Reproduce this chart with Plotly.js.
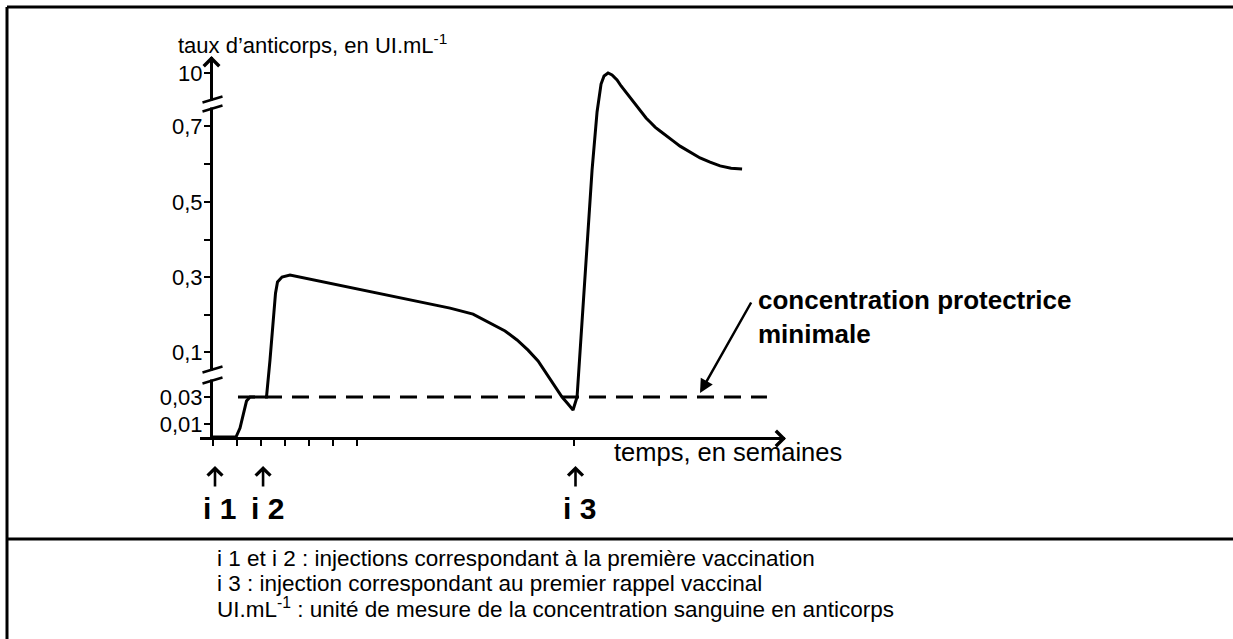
<!DOCTYPE html>
<html>
<head>
<meta charset="utf-8">
<script src="https://cdn.plot.ly/plotly-3.0.1.min.js"></script>
<style>html,body{margin:0;padding:0;background:#fff;overflow:hidden;}#chart{width:1233px;height:639px;}</style>
</head>
<body>
<div id="chart"></div>
<script>
// ---------- DATA ----------
// time in weeks after first injection (i 1)
const weeks = [0, 0.957, 1.124, 1.248, 1.394, 1.540, 2.226, 2.372, 2.497, 2.601, 2.684, 2.871, 3.204, 6.950,
  9.863, 10.820, 11.527, 12.152, 12.651, 13.109, 13.525, 13.899, 14.232, 14.524, 14.773, 14.981,
  15.148, 15.356, 15.564, 15.772, 15.980, 16.146, 16.271, 16.438, 16.604, 16.812, 16.979, 17.145,
  17.312, 17.478, 17.686, 17.853, 18.019, 18.186, 18.394, 18.602, 18.851, 19.143, 19.434, 19.684,
  19.975, 20.266, 20.682, 21.099, 21.556, 22.014];
// antibody level, UI.mL-1
const antibodies = [0, 0, 0.0069, 0.0167, 0.027, 0.03, 0.03, 0.0876, 0.185, 0.257, 0.287, 0.30, 0.305, 0.255,
  0.217, 0.201, 0.177, 0.156, 0.132, 0.105, 0.086, 0.0658, 0.0471, 0.03, 0.0248, 0.0204,
  0.03, 0.185, 0.372, 0.584, 3.16, 8.07, 9.47, 10, 9.65, 8.77, 7.72, 6.84,
  5.79, 4.91, 3.86, 2.98, 2.10, 1.40, 0.697, 0.687, 0.674, 0.661, 0.647, 0.637,
  0.626, 0.616, 0.605, 0.595, 0.589, 0.587];
const protectiveLevel = 0.03;
const protectiveSpan = [1.04, 23.05];
const injectionWeeks = [0, 2, 15];
const injectionLabels = ['i 1', 'i 2', 'i 3'];
const xTickWeeks = [0, 1, 2, 3, 4, 5, 6, 15];
const yTickValues = [0.01, 0.03, 0.1, 0.2, 0.3, 0.4, 0.5, 0.6, 0.7, 10];
const yTickLabels = ['0,01', '0,03', '0,1', '', '0,3', '', '0,5', '', '0,7', '10'];
const captionLines = [
  'i 1 et i 2 : injections correspondant à la première vaccination',
  'i 3 : injection correspondant au premier rappel vaccinal',
  'UI.mL<sup>-1</sup> : unité de mesure de la concentration sanguine en anticorps'
];

// ---------- BROKEN AXIS SCALE (value -> axis units, piecewise) ----------
const scaleVals = [0, 0.01, 0.03, 0.1, 0.3, 0.5, 0.7, 10];
const scalePos  = [0, 13, 40, 85, 160, 235, 311, 364];
function yPos(v) {
  for (let i = 1; i < scaleVals.length; i++) {
    if (v <= scaleVals[i]) {
      const t = (v - scaleVals[i-1]) / (scaleVals[i] - scaleVals[i-1]);
      return scalePos[i-1] + t * (scalePos[i] - scalePos[i-1]);
    }
  }
  return scalePos[scalePos.length-1];
}

// ---------- LAYOUT GEOMETRY ----------
const W = 1233, H = 639;
const M = {l: 213, r: 448, t: 57, b: 202, pad: 0};
const PW = W - M.l - M.r, PH = H - M.t - M.b;
const px2x = px => (px - M.l) / PW;
const py2y = py => (M.t + PH - py) / PH;
const FONT = 'Liberation Sans, Arial, sans-serif';
const NARROW = 'Liberation Sans Narrow, Liberation Sans, sans-serif';

const traces = [
  {
    x: protectiveSpan, y: protectiveSpan.map(() => yPos(protectiveLevel)),
    mode: 'lines', line: {color: '#000', width: 3, dash: '17px,10px'},
    hoverinfo: 'skip', cliponaxis: false
  },
  {
    x: weeks, y: antibodies.map(yPos),
    mode: 'lines', line: {color: '#000', width: 3, shape: 'linear'},
    hoverinfo: 'skip', cliponaxis: false
  }
];

const shapes = [];
const paperLine = (x0, y0, x1, y1, w) => shapes.push({type: 'line', xref: 'paper', yref: 'paper',
  x0: px2x(x0), y0: py2y(y0), x1: px2x(x1), y1: py2y(y1), line: {color: '#000', width: w}, layer: 'above'});
const paperRect = (x0, y0, x1, y1) => shapes.push({type: 'rect', xref: 'paper', yref: 'paper',
  x0: px2x(x0), y0: py2y(y0), x1: px2x(x1), y1: py2y(y1), line: {width: 0}, fillcolor: '#fff', layer: 'above'});

// frame (top/left) and separator
paperLine(7, 7, 1240, 7, 3);
paperLine(7, 7, 7, 645, 3);
paperLine(7, 539, 1240, 539, 3);
// x axis extension left of y axis
paperLine(200, M.t + PH + 1.5, 214, M.t + PH + 1.5, 3);
// y axis breaks: gaps + slanted marks
const axisPx = M.l - 1.5;
const breaks = [[M.t + PH - yPos(10) + 31, 9], [M.t + PH - yPos(0.03) - 22, 11]];
breaks.forEach(([yc, gap]) => {
  paperRect(axisPx - 4, yc - gap/2 + 1, axisPx + 4, yc + gap/2 - 1);
  paperLine(axisPx - 9, yc - gap/2 + 3, axisPx + 11, yc - gap/2 - 3, 2.5);
  paperLine(axisPx - 9, yc + gap/2 + 3, axisPx + 11, yc + gap/2 - 3, 2.5);
});

const annotations = [];
// axis arrows
annotations.push({xref: 'paper', yref: 'paper', x: px2x(axisPx), y: py2y(M.t - 1), ax: 0, ay: 20,
  showarrow: true, arrowhead: 4, arrowsize: 1.2, arrowwidth: 2.5, arrowcolor: '#000', text: ''});
annotations.push({xref: 'paper', yref: 'paper', x: px2x(786), y: py2y(M.t + PH + 1.5), ax: -20, ay: 0,
  showarrow: true, arrowhead: 4, arrowsize: 1.2, arrowwidth: 2.5, arrowcolor: '#000', text: ''});
// y axis title
annotations.push({xref: 'paper', yref: 'paper', x: px2x(176), y: py2y(44), xanchor: 'left', yanchor: 'middle',
  showarrow: false, text: 'taux d’anticorps, en UI.mL<sup>-1</sup>', font: {family: FONT, size: 22, color: '#000'}});
// x axis title
annotations.push({xref: 'paper', yref: 'paper', x: px2x(612), y: py2y(452), xanchor: 'left', yanchor: 'middle',
  showarrow: false, text: 'temps, en semaines', font: {family: FONT, size: 25.5, color: '#000'}});
// protective level label + arrow
annotations.push({xref: 'paper', yref: 'paper', x: px2x(756), y: py2y(317), xanchor: 'left', yanchor: 'middle',
  align: 'left', showarrow: false, text: '<b>concentration protectrice</b><br><b>minimale</b>',
  font: {family: FONT, size: 26, color: '#000'}});
annotations.push({xref: 'paper', yref: 'paper', x: px2x(700), y: py2y(393), ax: 52, ay: -92,
  showarrow: true, arrowhead: 2, arrowsize: 1.1, arrowwidth: 2.5, arrowcolor: '#000', text: ''});
// injection arrows and labels
injectionWeeks.forEach((w, i) => {
  annotations.push({xref: 'x', yref: 'paper', x: w, y: py2y(466), ax: 0, ay: 22, xshift: 2,
    showarrow: true, arrowhead: 4, arrowsize: 1.1, arrowwidth: 2.6, arrowcolor: '#000', text: ''});
  annotations.push({xref: 'x', yref: 'paper', x: w, y: py2y(509), xshift: 6, xanchor: 'center', yanchor: 'middle',
    showarrow: false, text: '<b>' + injectionLabels[i] + '</b>', font: {family: NARROW, size: 30, color: '#000'}});
});
// caption
captionLines.forEach((t, i) => {
  annotations.push({xref: 'paper', yref: 'paper', x: px2x(215), y: py2y(558 + i * 25), xanchor: 'left', yanchor: 'middle',
    showarrow: false, text: t, font: {family: FONT, size: 22.5, color: '#000'}});
});

const layout = {
  width: W, height: H, margin: M, paper_bgcolor: '#fff', plot_bgcolor: '#fff',
  showlegend: false, dragmode: false,
  xaxis: {range: [0, 23.8], showline: true, linecolor: '#000', linewidth: 3, showgrid: false, zeroline: false,
    tickmode: 'array', tickvals: xTickWeeks, ticks: 'outside', ticklen: 6, tickwidth: 2, tickcolor: '#000',
    showticklabels: false, fixedrange: true},
  yaxis: {range: [0, PH], showline: true, linecolor: '#000', linewidth: 3, showgrid: false, zeroline: false,
    tickmode: 'array', tickvals: yTickValues.map(yPos), ticktext: yTickLabels, ticks: 'outside', ticklen: 6,
    ticklabelstandoff: -3,
    tickwidth: 2, tickcolor: '#000', tickfont: {family: FONT, size: 22, color: '#000'}, fixedrange: true},
  shapes: shapes, annotations: annotations
};

Plotly.newPlot('chart', traces, layout, {staticPlot: true, displayModeBar: false});
</script>
</body>
</html>
